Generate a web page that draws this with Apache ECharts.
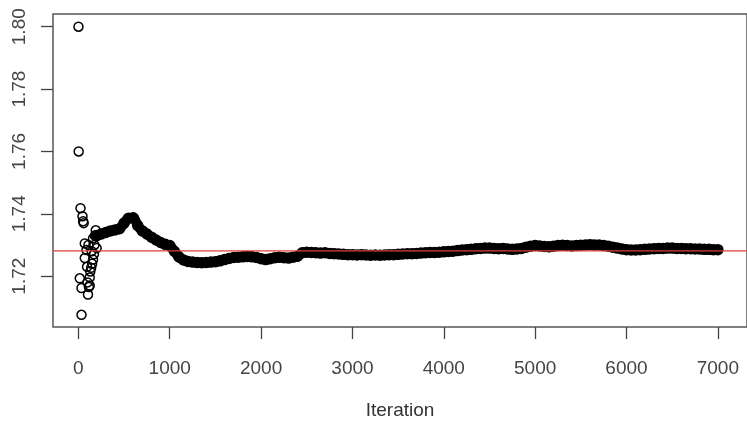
<!DOCTYPE html>
<html>
<head>
<meta charset="utf-8">
<script src="https://cdn.jsdelivr.net/npm/echarts@6/dist/echarts.min.js"></script>
<style>html,body{margin:0;padding:0;background:#fff}#c{width:747px;height:425px}</style>
</head>
<body>
<div id="c"></div>
<script>
// Early scattered iterations (running mean, first ~200 draws)
const earlyIter = [1, 3, 23, 45, 52, 58, 70, 88, 70, 160, 140, 190, 160, 15, 124, 34, 124, 105, 34, 100, 115, 130, 150, 175, 110, 95, 180, 145, 200, 170];
const earlyVal  = [1.8000, 1.7600, 1.7418, 1.7392, 1.7376, 1.7370, 1.7305, 1.7284, 1.7258, 1.7321, 1.7227, 1.7347, 1.7253, 1.7193, 1.7196, 1.7162, 1.7170, 1.7141, 1.7076, 1.7180, 1.7165, 1.7215, 1.7240, 1.7300, 1.7300, 1.7230, 1.7330, 1.7280, 1.7290, 1.7270];

// Dense trace after burn-in
const bandIter = [200,250,300,350,400,450,500,550,600,650,700,750,800,850,900,950,1000,1050,1100,1150,1200,1250,1300,1350,1400,1450,1500,1550,1600,1650,1700,1750,1800,1850,1900,1950,2000,2050,2100,2150,2200,2250,2300,2350,2400,2450,2500,2550,2600,2650,2700,2750,2800,2850,2900,2950,3000,3050,3100,3150,3200,3250,3300,3350,3400,3450,3500,3550,3600,3650,3700,3750,3800,3850,3900,3950,4000,4050,4100,4150,4200,4250,4300,4350,4400,4450,4500,4550,4600,4650,4700,4750,4800,4850,4900,4950,5000,5050,5100,5150,5200,5250,5300,5350,5400,5450,5500,5550,5600,5650,5700,5750,5800,5850,5900,5950,6000,6050,6100,6150,6200,6250,6300,6350,6400,6450,6500,6550,6600,6650,6700,6750,6800,6850,6900,6950,7000];
const bandVal = [1.7330,1.7335,1.7340,1.7345,1.7348,1.7352,1.7370,1.7386,1.7387,1.7362,1.7345,1.7335,1.7325,1.7316,1.7308,1.7302,1.7298,1.7280,1.7262,1.7252,1.7247,1.7245,1.7244,1.7243,1.7244,1.7245,1.7246,1.7249,1.7253,1.7257,1.7260,1.7261,1.7262,1.7263,1.7262,1.7260,1.7256,1.7253,1.7256,1.7259,1.7261,1.7259,1.7258,1.7261,1.7264,1.7275,1.7277,1.7276,1.7275,1.7274,1.7275,1.7273,1.7272,1.7271,1.7270,1.7269,1.7269,1.7268,1.7269,1.7268,1.7267,1.7268,1.7267,1.7268,1.7269,1.7269,1.7270,1.7271,1.7272,1.7272,1.7273,1.7274,1.7275,1.7276,1.7276,1.7277,1.7278,1.7279,1.7280,1.7282,1.7284,1.7285,1.7286,1.7288,1.7289,1.7290,1.7290,1.7289,1.7288,1.7289,1.7287,1.7286,1.7287,1.7289,1.7293,1.7296,1.7298,1.7297,1.7295,1.7294,1.7296,1.7298,1.7299,1.7298,1.7297,1.7298,1.7299,1.7300,1.7301,1.7300,1.7300,1.7298,1.7296,1.7293,1.7290,1.7287,1.7285,1.7284,1.7284,1.7285,1.7286,1.7287,1.7288,1.7289,1.7289,1.7290,1.7290,1.7289,1.7289,1.7288,1.7288,1.7287,1.7287,1.7286,1.7286,1.7285,1.7285];

const meanLine = 1.7281;
const xTicks = [0, 1000, 2000, 3000, 4000, 5000, 6000, 7000];
const yTicks = [1.72, 1.74, 1.76, 1.78, 1.80];
const xTitle = 'Iteration';

const xMin = -278, xMax = 7319, yMin = 1.70369, yMax = 1.80408;

const early = [], band = [];
for (let i = 0; i < earlyIter.length; i++) early.push([earlyIter[i], earlyVal[i]]);
for (let i = 0; i < bandIter.length; i++) band.push([bandIter[i], bandVal[i]]);

const font = '"Liberation Sans", Arial, Helvetica, sans-serif';
const ring = {symbol: 'circle', symbolSize: 9, itemStyle: {color: 'rgba(0,0,0,0)', borderColor: '#000', borderWidth: 1.5, opacity: 1}};
const chart = echarts.init(document.getElementById('c'), null, {renderer: 'canvas'});
chart.setOption({
  animation: false,
  backgroundColor: '#fff',
  grid: {left: 53, right: -5, top: 14, bottom: 91, show: true, borderColor: '#555', borderWidth: 1.5, backgroundColor: 'transparent'},
  xAxis: {
    type: 'value', min: xMin, max: xMax,
    name: xTitle, nameLocation: 'middle', nameGap: 74,
    nameTextStyle: {fontFamily: font, fontSize: 19, color: '#333'},
    axisLine: {show: false, onZero: false},
    splitLine: {show: false},
    axisTick: {show: true, length: 12, lineStyle: {color: '#444', width: 1.3}, customValues: xTicks},
    axisLabel: {fontFamily: font, fontSize: 19, color: '#444', margin: 32, customValues: xTicks, formatter: v => String(v)}
  },
  yAxis: {
    type: 'value', min: yMin, max: yMax,
    axisLine: {show: false, onZero: false},
    splitLine: {show: false},
    axisTick: {show: true, length: 12, lineStyle: {color: '#444', width: 1.3}, customValues: yTicks},
    axisLabel: {fontFamily: font, fontSize: 19, color: '#444', margin: 24, rotate: 90, customValues: yTicks, formatter: v => v.toFixed(2)}
  },
  series: [{
    type: 'line',
    data: band,
    showSymbol: false,
    symbol: 'none',
    smooth: 0.3,
    lineStyle: {color: '#000', width: 10, cap: 'round', join: 'round'},
    silent: true,
    z: 1
  }, Object.assign({type: 'scatter', data: band, z: 2}, ring, {symbolSize: 10}),
     Object.assign({type: 'scatter', data: early, z: 2}, ring),
  {
    type: 'line',
    data: [[xMin, meanLine], [xMax, meanLine]],
    showSymbol: false,
    symbol: 'none',
    lineStyle: {color: '#e0403a', width: 1.2},
    silent: true,
    z: 3
  }]
});
</script>
</body>
</html>
